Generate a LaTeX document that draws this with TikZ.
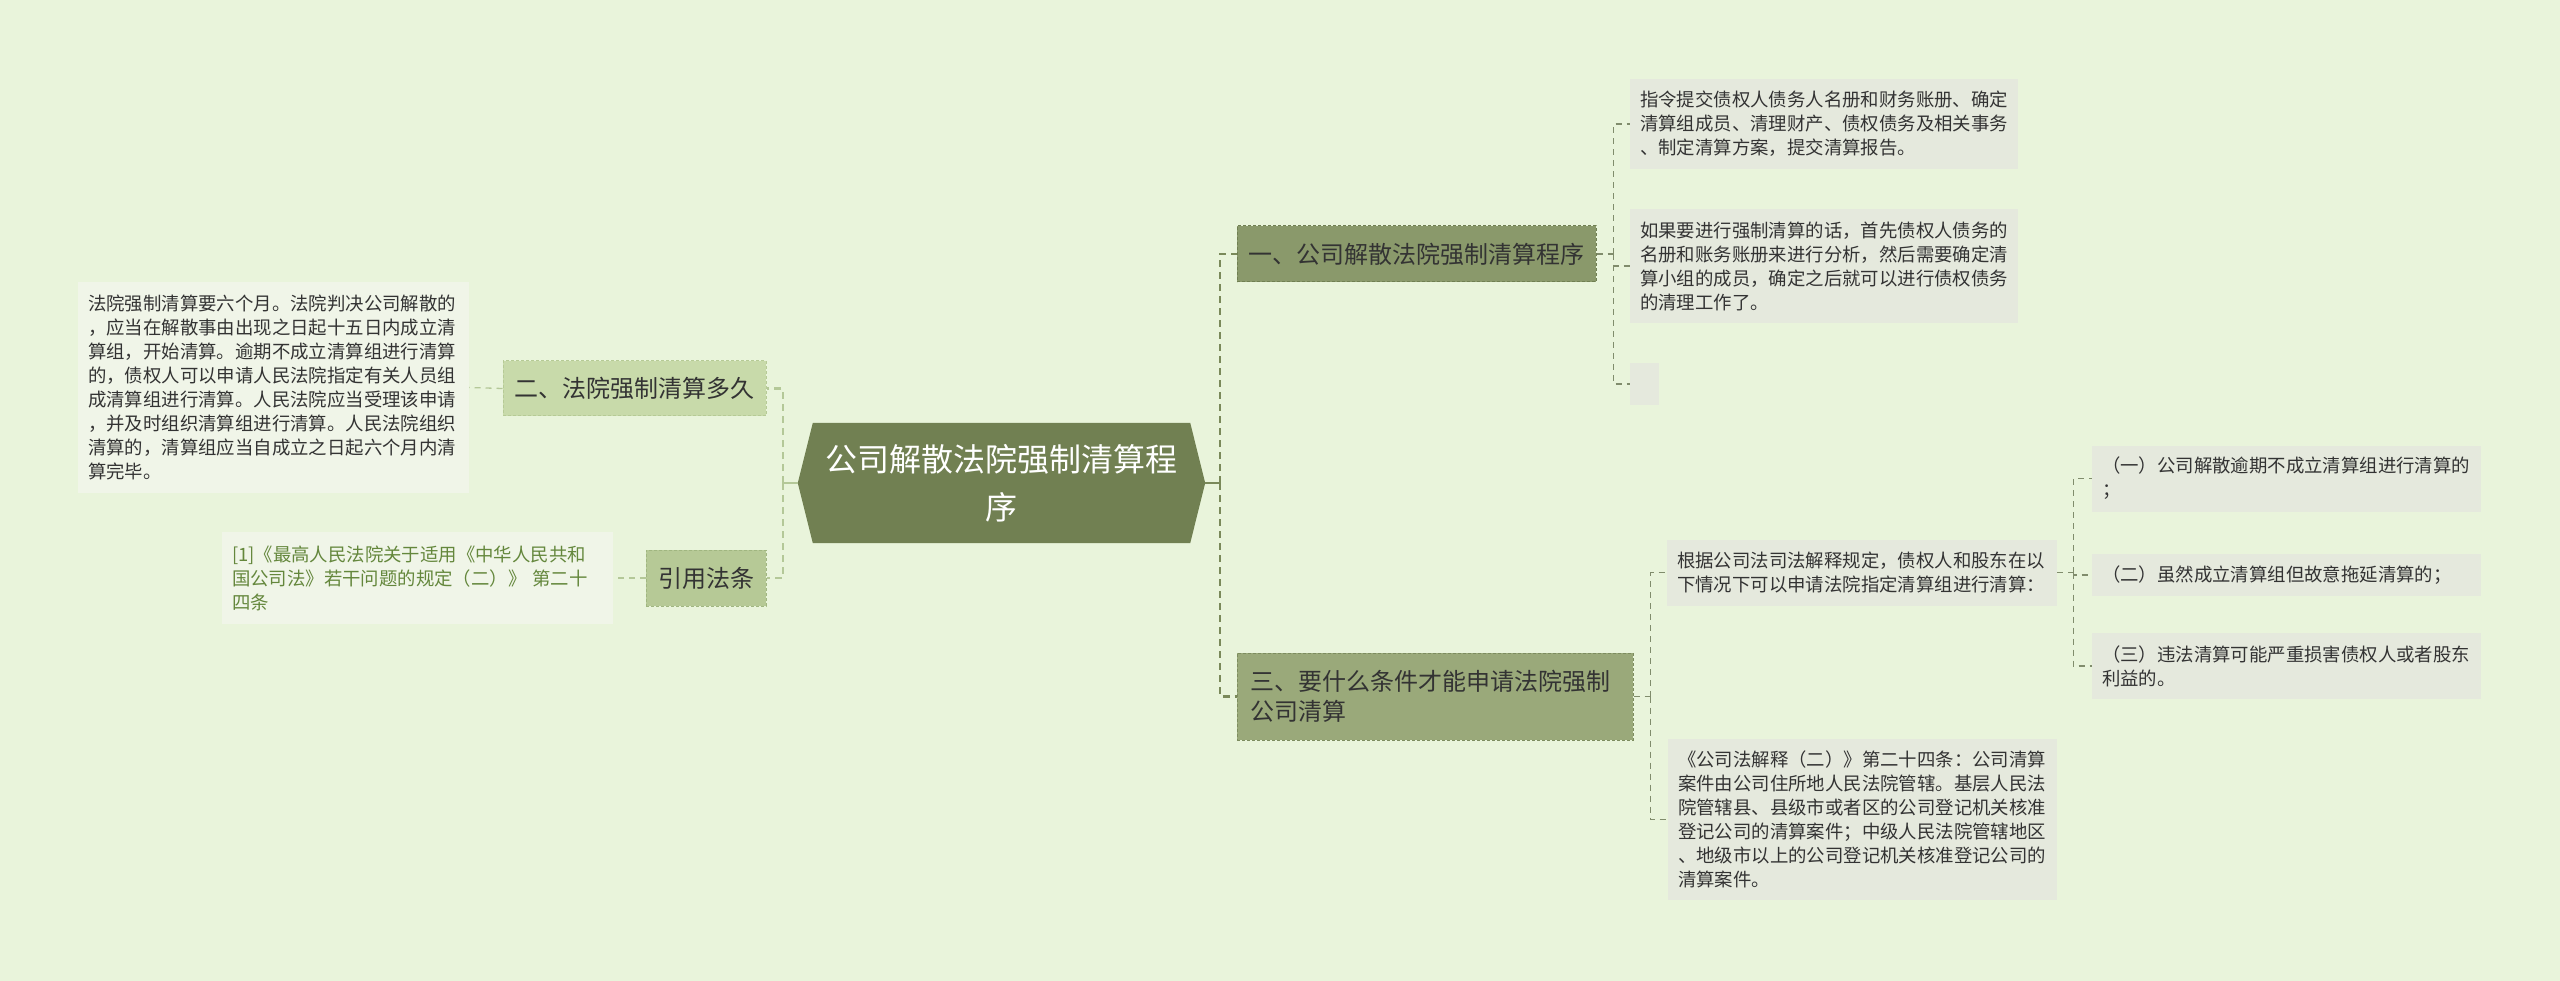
\documentclass[tikz,border=0pt]{standalone}
\usepackage{fontspec}
\setmainfont{Noto Sans CJK SC}
\definecolor{bgc}{RGB}{233,244,219}
\definecolor{rootc}{RGB}{113,128,82}
\definecolor{onec}{RGB}{138,153,107}
\definecolor{oneb}{RGB}{112,127,82}
\definecolor{threec}{RGB}{154,169,122}
\definecolor{threeb}{RGB}{125,140,95}
\definecolor{twoc}{RGB}{200,218,170}
\definecolor{twob}{RGB}{182,202,150}
\definecolor{refc}{RGB}{182,201,150}
\definecolor{refb}{RGB}{160,182,128}
\definecolor{infoc}{RGB}{229,233,221}
\definecolor{leftc}{RGB}{240,245,232}
\definecolor{txtc}{RGB}{51,51,51}
\definecolor{greentxt}{RGB}{100,135,60}
\definecolor{rlink}{RGB}{122,137,90}
\definecolor{clink}{RGB}{128,140,108}
\definecolor{llink}{RGB}{180,200,152}
\pgfdeclarelayer{bgl}
\pgfdeclarelayer{hexl}
\pgfsetlayers{bgl,hexl,main}
\begin{document}
\begin{tikzpicture}[x=1pt,y=-1pt,
  info/.style={fill=infoc, text=txtc, font=\fontsize{18.4}{24}\selectfont, align=left, inner xsep=10pt, inner ysep=0pt},
  leftinfo/.style={info, fill=leftc},
  lvlone/.style={draw, dash pattern=on 3pt off 2pt, line width=1pt, text=txtc, font=\fontsize{24}{30}\selectfont, align=left, inner ysep=0pt},
  mainlink/.style={draw=rlink, line width=2.5pt, dash pattern=on 7pt off 5pt},
  leftlink/.style={draw=llink, line width=2.5pt, dash pattern=on 7pt off 5pt},
  childlink/.style={draw=clink, line width=1.3pt, dash pattern=on 6pt off 5pt},
  lchildlink/.style={draw=llink, line width=1.3pt, dash pattern=on 6pt off 5pt}
]
\begin{pgfonlayer}{bgl}
\fill[bgc] (0,0) rectangle (2560,981);
\end{pgfonlayer}
\useasboundingbox (0,0) rectangle (2560,981);

% root
\node[text=white, font=\fontsize{32}{48}\selectfont, align=center, text width=407pt, inner xsep=0pt, inner ysep=0pt, minimum height=120pt] (root) at (1001.5,483) {公司解散法院强制清算程\\序};
\begin{pgfonlayer}{hexl}
\fill[rootc] (root.west) -- ([xshift=15pt]root.north west) -- ([xshift=-15pt]root.north east) -- (root.east) -- ([xshift=-15pt]root.south east) -- ([xshift=15pt]root.south west) -- cycle;
\end{pgfonlayer}

% level one
\node[lvlone, fill=onec, draw=oneb, text width=337pt, inner xsep=11pt, minimum height=56pt] (n1) at (1416.5,254) {一、公司解散法院强制清算程序};
\node[lvlone, fill=threec, draw=threeb, text width=370pt, inner xsep=13pt, minimum height=87pt] (n3) at (1435,696.5) {三、要什么条件才能申请法院强制\\公司清算};
\node[lvlone, fill=twoc, draw=twob, text width=241pt, inner xsep=11pt, minimum height=55pt] (n2) at (634.5,388.5) {二、法院强制清算多久};
\node[lvlone, fill=refc, draw=refb, text width=96pt, inner xsep=12pt, minimum height=56pt] (ref) at (706,578) {引用法条};

% children of n1
\node[info, text width=368pt, minimum height=90pt] (A) at (1824,124) {指令提交债权人债务人名册和财务账册、确定\\清算组成员、清理财产、债权债务及相关事务\\、制定清算方案，提交清算报告。};
\node[info, text width=368pt, minimum height=114pt] (B) at (1824,266) {如果要进行强制清算的话，首先债权人债务的\\名册和账务账册来进行分析，然后需要确定清\\算小组的成员，确定之后就可以进行债权债务\\的清理工作了。};
\node[fill=infoc, inner sep=0pt, minimum width=29pt, minimum height=42pt] (C) at (1644.5,384) {};

% children of n3
\node[info, text width=370pt, minimum height=66pt] (D) at (1862,572.5) {根据公司法司法解释规定，债权人和股东在以\\下情况下可以申请法院指定清算组进行清算：};
\node[info, text width=369pt, minimum height=161pt] (E) at (1862.5,819.5) {《公司法解释（二）》第二十四条：公司清算\\案件由公司住所地人民法院管辖。基层人民法\\院管辖县、县级市或者区的公司登记机关核准\\登记公司的清算案件；中级人民法院管辖地区\\、地级市以上的公司登记机关核准登记公司的\\清算案件。};

% children of D
\node[info, text width=369pt, minimum height=66pt] (P1) at (2286.5,478.5) {（一）公司解散逾期不成立清算组进行清算的\\；};
\node[info, text width=369pt, minimum height=42pt] (P2) at (2286.5,575) {（二）虽然成立清算组但故意拖延清算的；};
\node[info, text width=369pt, minimum height=66pt] (P3) at (2286.5,666) {（三）违法清算可能严重损害债权人或者股东\\利益的。};

% left children
\node[leftinfo, text width=371pt, minimum height=210pt] (F) at (273.5,387.5) {法院强制清算要六个月。法院判决公司解散的\\，应当在解散事由出现之日起十五日内成立清\\算组，开始清算。逾期不成立清算组进行清算\\的，债权人可以申请人民法院指定有关人员组\\成清算组进行清算。人民法院应当受理该申请\\，并及时组织清算组进行清算。人民法院组织\\清算的，清算组应当自成立之日起六个月内清\\算完毕。};
\node[leftinfo, text=greentxt, text width=371pt, minimum height=92pt] (G) at (417.5,578) {[1]《最高人民法院关于适用《中华人民共和\\国公司法》若干问题的规定（二）》 第二十\\四条};

% connectors right of root
\draw[draw=rlink, line width=2.5pt] (root.east) -- ++(15,0) coordinate (rj);
\draw[mainlink] (rj) |- (n1.west);
\draw[mainlink] (rj) |- (n3.west);
% connectors left of root
\draw[draw=llink, line width=2.5pt] (root.west) -- ++(-15,0) coordinate (lj);
\draw[leftlink] (lj) |- (n2.east);
\draw[leftlink] (lj) |- (ref.east);

% n1 children
\draw[childlink] (n1.east) -- ++(17,0) coordinate (j1);
\draw[childlink] (j1) |- (A.west);
\draw[childlink] (j1) |- (B.west);
\draw[childlink] (j1) |- (C.west);

% n3 children
\draw[childlink] (n3.east) -- ++(17,0) coordinate (j3);
\draw[childlink] (j3) |- (D.west);
\draw[childlink] (j3) |- (E.west);

% D children
\draw[childlink] (D.east) -- ++(16,0) coordinate (jd);
\draw[childlink] (jd) |- (P1.west);
\draw[childlink] (jd) |- (P2.west);
\draw[childlink] (jd) |- (P3.west);

% left children
\draw[lchildlink] (n2.west) -- (F.east);
\draw[lchildlink] (ref.west) -- (G.east);
\end{tikzpicture}
\end{document}
